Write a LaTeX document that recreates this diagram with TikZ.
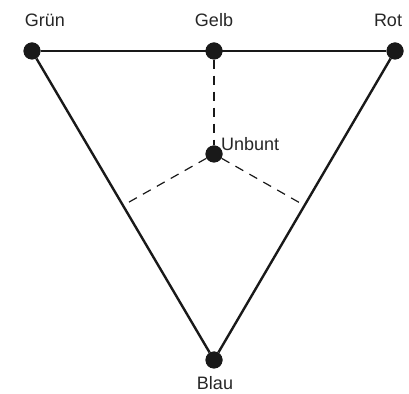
\documentclass[tikz,border=0pt]{standalone}
\usepackage{fontspec}
\setmainfont{Liberation Sans}
\usetikzlibrary{calc}
\tikzset{
  dot/.style={circle,fill=black!90,inner sep=0pt,minimum size=17pt},
  lbl/.style={inner sep=0pt,font=\fontsize{18}{20}\selectfont,text=black!85},
  side/.style={line width=2.4pt,black!90},
  hint/.style={line width=1.2pt,dash pattern=on 9pt off 7pt,black!90}
}
\begin{document}
\begin{tikzpicture}[x=1pt,y=1pt]
	\useasboundingbox (0,0) rectangle (409,393);
	% corners
	\node[dot] (gruen) at (32,342) {};
	\node[dot] (rot) at (395,342) {};
	\node[dot] (blau) at (214,33) {};
	\node[dot] (gelb) at (214,342) {};
	\node[dot] (unbunt) at (214,239) {};

	% side midpoints
	\coordinate (mgb) at ($(gruen)!0.5!(blau)$);
	\coordinate (mrb) at ($(rot)!0.5!(blau)$);

	% hints
	\draw[hint] (gelb) -- (unbunt);
	\draw[hint] (unbunt) -- (mgb);
	\draw[hint] (unbunt) -- (mrb);

	% triangle
	\draw[side] (gruen) -- (rot);
	\draw[side] (gruen) -- (blau);
	\draw[side] (rot) -- (blau);
	\node[dot] at (gruen) {};
	\node[dot] at (rot) {};
	\node[dot] at (blau) {};
	\node[dot] at (gelb) {};
	\node[dot] at (unbunt) {};

	% labels
	\node[lbl] (gruenL) at (45,373) {Grün};
	\node[lbl] (gelbL) at (214,373) {Gelb};
	\node[lbl] (rotL) at (388,373) {Rot};
	\node[lbl] (blauL) at (215,10) {Blau};
	\node[lbl,anchor=west] (unbuntL) at (221,249) {Unbunt};
\end{tikzpicture}
\end{document}
